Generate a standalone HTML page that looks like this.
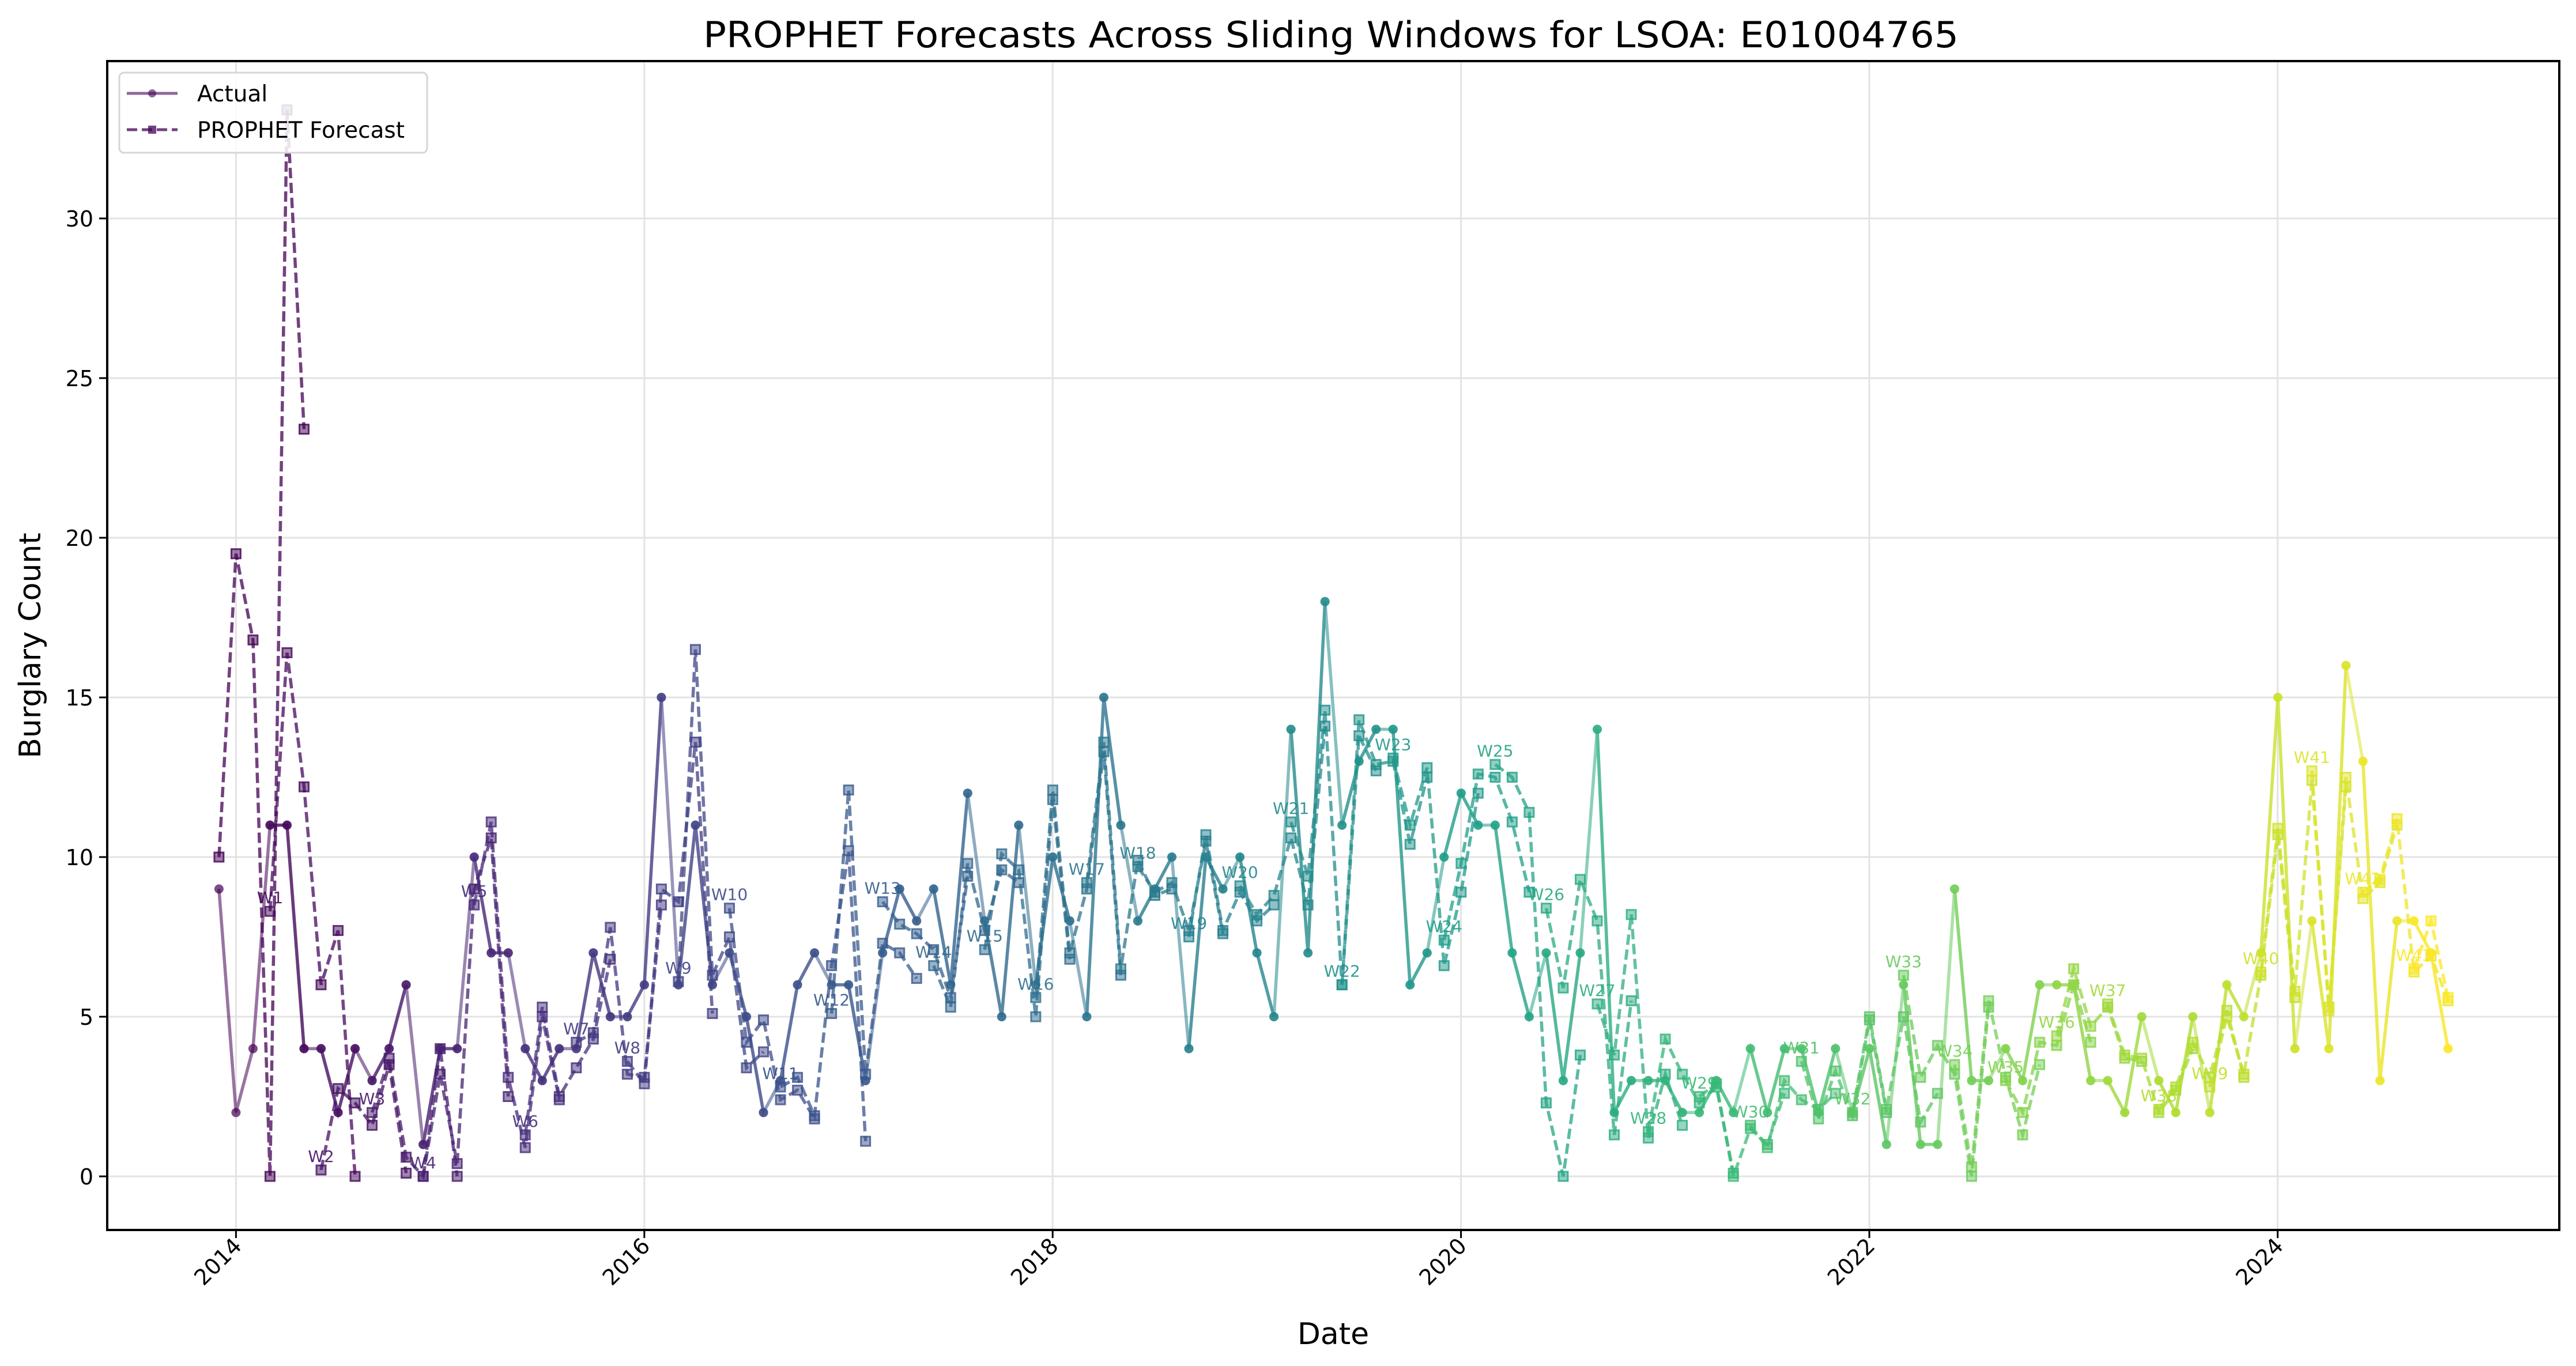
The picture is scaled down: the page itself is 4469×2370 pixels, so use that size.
<!DOCTYPE html>
<html><head><meta charset="utf-8"><style>
html,body{margin:0;padding:0;background:#fff}
svg{display:block;font-family:"DejaVu Sans","Liberation Sans",sans-serif}
</style></head><body>
<svg id="chart" xmlns="http://www.w3.org/2000/svg" width="4469" height="2370" viewBox="0 0 4469 2370">
<rect x="0" y="0" width="4469" height="2370" fill="#fff"/>
<text x="2309" y="82" font-size="62" text-anchor="middle" textLength="2178" lengthAdjust="spacingAndGlyphs">PROPHET Forecasts Across Sliding Windows for LSOA: E01004765</text>
<g id="grid"></g>
<g id="series"></g>
<g id="labels"></g>
<rect x="186" y="106" width="4254" height="2028" fill="none" stroke="#000" stroke-width="4"/>
<g id="axes"></g>
<text x="2313" y="2332" font-size="52" text-anchor="middle">Date</text>
<text transform="translate(70,1120) rotate(-90)" font-size="52" text-anchor="middle">Burglary Count</text>
<g>
<rect x="207" y="126" width="534" height="139" rx="8" fill="#fff" fill-opacity="0.85" stroke="#d6d6d6" stroke-width="3"/>
<g>
<line x1="220" y1="162" x2="308" y2="162" stroke="#440154" stroke-opacity="0.6" stroke-width="5"/>
<circle cx="264" cy="162" r="7" fill="#440154" fill-opacity="0.6"/>
<text x="342" y="176" font-size="39">Actual</text></g>
<g>
<line x1="220" y1="225" x2="308" y2="225" stroke="#440154" stroke-opacity="0.75" stroke-width="5" stroke-dasharray="18,8"/>
<rect x="257" y="218" width="14" height="14" fill="#440154" fill-opacity="0.75"/>
<text x="342" y="239" font-size="39">PROPHET Forecast</text></g>
</g>
</svg>
<script>
// Monthly actual burglary counts, Dec 2013 .. Nov 2024
const actualCounts = [9,
 2,4,11,11,4,4,2,4,3,4,6,1,
 4,4,10,7,7,4,3,4,4,7,5,5,
 6,15,6,11,6,7,5,2,3,6,7,6,
 6,3,7,9,8,9,6,12,8,5,11,6,
 10,8,5,15,11,8,9,10,4,10,9,10,
 7,5,14,7,18,11,13,14,14,6,7,10,
 12,11,11,7,5,7,3,7,14,2,3,3,
 3,2,2,3,2,4,2,4,4,2,4,2,
 4,1,6,1,1,9,3,3,4,3,6,6,
 6,3,3,2,5,3,2,5,2,6,5,7,
 15,4,8,4,16,13,3,8,8,7,4];
// Forecast from the window starting in that quarter (first half of each window)
const forecastFirstHalf = [10,19.5,16.8, 8.3,16.4,12.2, 0.2,2.75,2.3, 2.0,3.7,0.6, 0,3.2,0.4, 8.5,11.1,3.1,
 1.3,5.3,2.5, 4.2,4.5,7.8, 3.6,2.9,9, 6.1,16.5,6.3, 8.4,4.2,4.9, 2.8,3.1,1.9,
 5.1,12.1,3.2, 8.6,7.9,7.6, 6.6,5.3,9.8, 7.1,10.1,9.6, 5.6,12.1,7.0, 9.2,13.6,6.5,
 9.7,8.9,9.2, 7.5,10.7,7.7, 9.1,8.2,8.8, 11.1,9.4,14.6, 6.0,14.3,12.9, 13.1,11.0,12.8,
 7.4,9.8,12.6, 12.9,12.5,11.4, 8.4,5.9,9.3, 5.4,3.8,8.2, 1.4,4.3,3.2, 2.5,2.9,0,
 1.6,0.9,3.0, 3.6,1.8,3.3, 2.0,5.0,2.1, 6.3,3.1,4.1, 3.5,0.3,5.5, 3.0,2.0,4.2,
 4.4,6.5,4.7, 5.4,3.8,3.7, 2.1,2.8,4.2, 2.8,5.0,3.2, 6.4,10.9,5.8, 12.7,5.2,12.5,
 8.9,9.3,11.2, 6.5,8.0,5.6];
// Forecast from the previous window (second half of each window)
const forecastSecondHalf = [null,null,null, 0,33.4,23.4, 6,7.7,0, 1.6,3.5,0.1, 0,4.0,0, 9.0,10.6,2.5,
 0.9,5.0,2.4, 3.4,4.3,6.8, 3.2,3.1,8.5, 8.6,13.6,5.1, 7.5,3.4,3.9, 2.4,2.7,1.8,
 6.6,10.2,1.1, 7.3,7.0,6.2, 7.1,5.6,9.4, 7.7,9.6,9.2, 5.0,11.8,6.8, 9.0,13.3,6.3,
 9.9,8.8,9.0, 7.7,10.5,7.6, 8.9,8.0,8.5, 10.6,8.5,14.1, 6.0,13.8,12.7, 13.0,10.4,12.5,
 6.6,8.9,12.0, 12.5,11.1,8.9, 2.3,0,3.8, 8.0,1.3,5.5, 1.2,3.2,1.6, 2.3,2.8,0.1,
 1.5,1.0,2.6, 2.4,2.1,2.6, 1.9,4.9,2.0, 5.0,1.7,2.6, 3.2,0,5.3, 3.1,1.3,3.5,
 4.1,6.0,4.2, 5.3,3.7,3.6, 2.0,2.7,4.0, 3.1,5.2,3.1, 6.3,10.7,5.6, 12.4,5.3,12.2,
 8.7,9.2,11.0, 6.4,6.9,5.5];
const yTicks = [0,5,10,15,20,25,30];
const xTickYears = [2014,2016,2018,2020,2022,2024];

const NS = "http://www.w3.org/2000/svg";
const L=186,R=4440,T=106,B=2134;
const xYear = y => 409.4 + (y-2014)*354.2;
const xMonth = m => 409.4 + (m-1)*29.52;   // m = months since Dec 2013
const yVal = v => 2041 - v*55.4;
const stops=[[68,1,84],[72,40,120],[62,73,137],[49,104,142],[38,130,142],[31,158,137],[53,183,121],[109,205,89],[180,222,44],[253,231,37]];
function viridis(t){t=Math.max(0,Math.min(1,t));const p=t*(stops.length-1),i=Math.min(stops.length-2,Math.floor(p)),f=p-i;
 const c=stops[i].map((a,j)=>Math.round(a+(stops[i+1][j]-a)*f));return `rgb(${c[0]},${c[1]},${c[2]})`;}
function mk(tag,attrs,parent){const e=document.createElementNS(NS,tag);for(const k in attrs)e.setAttribute(k,attrs[k]);parent.appendChild(e);return e;}

const grid=document.getElementById('grid'), axes=document.getElementById('axes');
yTicks.forEach(v=>{const y=yVal(v);
 const g=mk('line',{x1:L,x2:R,y1:y,y2:y,stroke:'#e3e3e3','stroke-width':3},grid);
 
 
 const t=mk('line',{x1:L-14,x2:L,y1:y,y2:y,stroke:'#000','stroke-width':3},axes);
 
 
 const tx=mk('text',{x:L-24,y:y+14,'font-size':38,'text-anchor':'end'},axes);tx.textContent=v;
 
 
});
xTickYears.forEach(yr=>{const x=xYear(yr);
 const g=mk('line',{x1:x,x2:x,y1:T,y2:B,stroke:'#e3e3e3','stroke-width':3},grid);
 
 
 const t=mk('line',{x1:x,x2:x,y1:B,y2:B+14,stroke:'#000','stroke-width':3},axes);
 
 
 const tx=mk('text',{transform:`translate(${x+12},${B+30}) rotate(-45)`,'font-size':38,'text-anchor':'end'},axes);tx.textContent=yr;
 
 
});

const series=document.getElementById('series'), labels=document.getElementById('labels');
const N=actualCounts.length, nWin=Math.ceil(N/3);
for(let k=0;k<nWin;k++){
 const col=viridis(k/(nWin-1)), s=3*k;
 const g=mk('g',{},series);
 
 
 const aPts=[];for(let m=s;m<Math.min(s+6,N);m++)aPts.push([xMonth(m),yVal(actualCounts[m])]);
 const al=mk('polyline',{points:aPts.map(p=>p.join(',')).join(' '),fill:'none',stroke:col,'stroke-opacity':0.55,'stroke-width':5.5},g);
 
 
 aPts.forEach(p=>{const c=mk('circle',{cx:p[0],cy:p[1],r:8,fill:col,'fill-opacity':0.7},g);
  
  });
 const fPts=[];
 for(let m=s;m<Math.min(s+6,N);m++){const v=m<s+3?forecastFirstHalf[m]:forecastSecondHalf[m];if(v!=null)fPts.push([xMonth(m),yVal(v)]);}
 const fl=mk('polyline',{points:fPts.map(p=>p.join(',')).join(' '),fill:'none',stroke:col,'stroke-opacity':0.75,'stroke-width':5.5,'stroke-dasharray':'18,8'},g);
 
 
 fPts.forEach(p=>{const r=mk('rect',{x:p[0]-8,y:p[1]-8,width:16,height:16,fill:col,'fill-opacity':0.5,stroke:col,'stroke-opacity':0.8,'stroke-width':3},g);
  
  });
 if(k>=1){const v=forecastFirstHalf[s];
  const t=mk('text',{x:xMonth(s),y:yVal(v)-14,'font-size':28,'text-anchor':'middle',fill:col,'fill-opacity':0.9},labels);
  t.textContent='W'+k;
  
  }
}
</script>
</body></html>
